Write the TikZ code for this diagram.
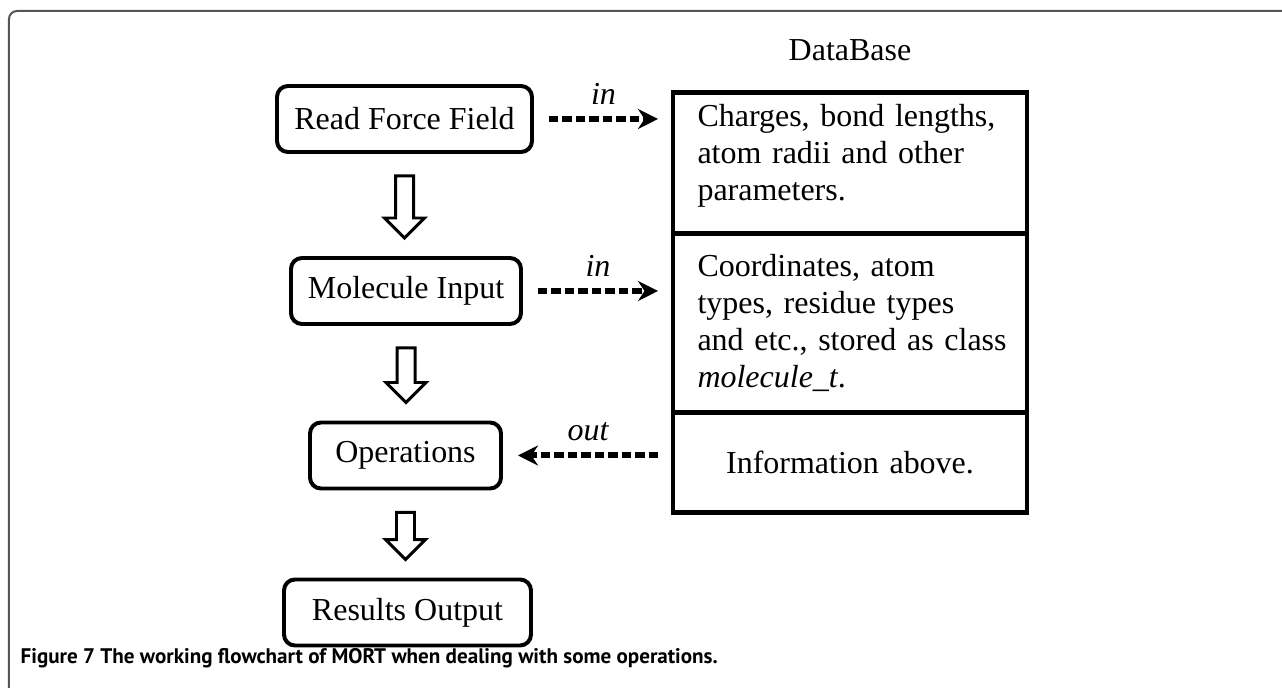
\documentclass[tikz,border=0pt]{standalone}
\usepackage{fontspec}
\setmainfont{Liberation Serif}
\newfontfamily\capfont{PT Sans}
\usetikzlibrary{arrows.meta,calc,positioning}
\definecolor{framegray}{RGB}{85,85,85}

\begin{document}
\frenchspacing
\begin{tikzpicture}[
	flowbox/.style={draw, line width=1.13pt, rounded corners=0.11cm, minimum height=0.66cm, font=\fontsize{9.1}{10.5}\selectfont},
	dbcell/.style={draw, line width=1.3pt, outer sep=0pt, minimum width=3.54cm, text width=3.05cm, inner xsep=0.245cm, align=left, font=\fontsize{9.1}{10.5}\selectfont},
	dataflow/.style={line width=0.06cm, dash pattern=on 0.095cm off 0.04cm, -{Stealth[length=0.2cm,width=0.2cm]}, shorten <=0.15cm, shorten >=0.15cm},
	flowlabel/.style={font=\itshape\fontsize{9.1}{10.5}\selectfont},
	hollow/.style={draw, line width=0.85pt, fill=white, line join=miter}]
	\useasboundingbox (0,0) rectangle (12.82,-6.88);
	% Draw frame
	\draw[framegray, line width=0.02cm, rounded corners=0.08cm] (0.09,-6.88) -- (0.09,-0.11) -- (12.82,-0.11);
	% Draw flow boxes
	\node[flowbox, minimum width=2.55cm] (rff) at (4.045,-1.19) {Read Force Field};
	\node[flowbox, minimum width=2.30cm] (mi) at (4.06,-2.91) {Molecule Input};
	\node[flowbox, minimum width=1.91cm] (ops) at (4.055,-4.555) {Operations};
	\node[flowbox, minimum width=2.47cm] (ro) at (4.075,-6.125) {Results Output};
	% Draw block arrows
	\foreach \a/\b in {rff/mi, mi/ops, ops/ro}
		\draw[hollow] let \p1=(\a.south), \p2=(\b.north) in
			(\x1-0.09cm,\y1-0.22cm) -- (\x1-0.09cm,\y2+0.38cm) -- (\x1-0.2cm,\y2+0.38cm) -- (\x1,\y2+0.18cm)
			-- (\x1+0.2cm,\y2+0.38cm) -- (\x1+0.09cm,\y2+0.38cm) -- (\x1+0.09cm,\y1-0.22cm) -- cycle;
	% Draw database table
	\node[dbcell, minimum height=1.40cm, text depth=0.95cm] (db1) at (8.5,-1.63) {Charges, bond lengths,\\ atom radii and other\\ parameters.};
	\node[dbcell, minimum height=1.79cm, below=0cm of db1] (db2) {Coordinates, atom\\ types, residue types\\ \mbox{and etc., stored as class}\\ \textit{molecule\_t}.};
	\node[dbcell, minimum height=1.00cm, align=center, below=0cm of db2] (db3) {Information above.};
	\node[above=0.19cm of db1, font=\fontsize{9.1}{10.5}\selectfont] (dbname) {DataBase};
	% Draw dashed arrows
	\draw[dataflow] (rff.east) -- (rff.east -| db1.west) node[midway, above, flowlabel] {in};
	\draw[dataflow] (mi.east) -- (mi.east -| db2.west) node[midway, above, flowlabel] {in};
	\draw[dataflow] (ops.east -| db3.west) -- (ops.east) node[midway, above, flowlabel] {out};
	% Caption
	\node[anchor=base west, inner sep=0pt, font=\capfont\bfseries\fontsize{6.0}{7}\selectfont] (caption) at (0.20,-6.64) {Figure 7 The working flowchart of MORT when dealing with some operations.};
\end{tikzpicture}
\end{document}
